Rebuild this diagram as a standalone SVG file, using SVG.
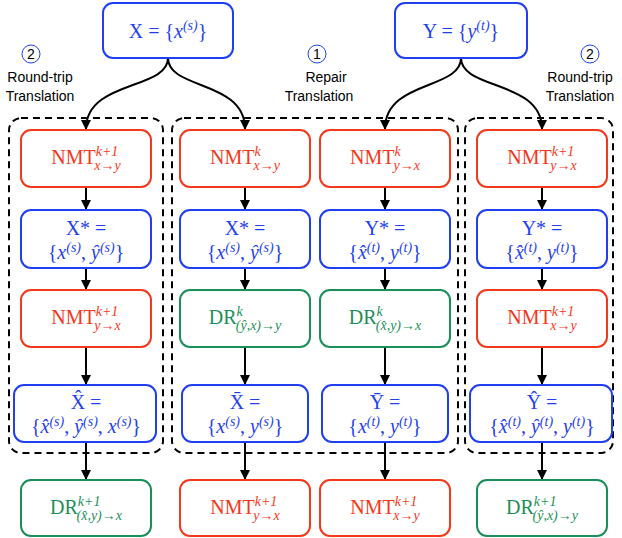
<svg xmlns="http://www.w3.org/2000/svg" width="622" height="538" viewBox="0 0 622 538">
<defs>
<marker id="ah" viewBox="0 0 10 10" refX="9" refY="5" markerWidth="5" markerHeight="5" orient="auto"><path d="M0,0 L10,5 L0,10 z" fill="#000"/></marker>
<style>
.b{fill:#fff;stroke-width:2}
.r{stroke:#f4381c}.rt{fill:#f4381c}
.u{stroke:#1f3ff0}.ut{fill:#1f3ff0}
.g{stroke:#1b8f5a}.gt{fill:#1b8f5a}
text{font-family:"Liberation Serif",serif;font-size:20px;text-anchor:middle}
.i{font-style:italic}
.s{font-size:14px;font-style:italic}
.lbl{font-family:"Liberation Sans",sans-serif;font-size:14px;fill:#000}
.d{fill:none;stroke:#000;stroke-width:2;stroke-dasharray:7,5}
.c{fill:none;stroke:#000;stroke-width:2;marker-end:url(#ah)}
</style>
</defs>
<g id="groups">
<rect class="d" x="9" y="118" width="154" height="335" rx="12"/>
<rect class="d" x="172" y="118" width="286" height="335" rx="12"/>
<rect class="d" x="465" y="118" width="148" height="335" rx="12"/>
</g>
<g id="labels">
<circle cx="31" cy="54" r="9" fill="none" stroke="#1f3ff0" stroke-width="1"/><text x="31" y="59" class="lbl">2</text>
<text x="40" y="82" class="lbl">Round-trip</text><text x="40" y="101" class="lbl">Translation</text>
<circle cx="317" cy="54" r="9" fill="none" stroke="#1f3ff0" stroke-width="1"/><text x="317" y="59" class="lbl">1</text>
<text x="326" y="82" class="lbl">Repair</text><text x="319" y="101" class="lbl">Translation</text>
<circle cx="590" cy="54" r="9" fill="none" stroke="#1f3ff0" stroke-width="1"/><text x="590" y="59" class="lbl">2</text>
<text x="580" y="82" class="lbl">Round-trip</text><text x="580" y="101" class="lbl">Translation</text>
</g>
<g id="connectors">
<path class="c" d="M168,58 C168,90 86,80 86,129"/>
<path class="c" d="M168,58 C168,90 245,80 245,129"/>
<path class="c" d="M461,58 C461,90 385,80 385,129"/>
<path class="c" d="M461,58 C461,90 542,80 542,129"/>
<path class="c" d="M86,187 V209"/><path class="c" d="M86,268 V289"/><path class="c" d="M86,347 V384"/><path class="c" d="M86,442 V479"/>
<path class="c" d="M245,187 V209"/><path class="c" d="M245,268 V289"/><path class="c" d="M245,347 V384"/><path class="c" d="M245,442 V479"/>
<path class="c" d="M385,187 V209"/><path class="c" d="M385,268 V289"/><path class="c" d="M385,347 V384"/><path class="c" d="M385,442 V479"/>
<path class="c" d="M542,187 V209"/><path class="c" d="M542,268 V289"/><path class="c" d="M542,347 V384"/><path class="c" d="M542,442 V479"/>
</g>
<g id="nX"><rect class="b u" x="103" y="3" width="130" height="55" rx="10"/><text x="168" y="38" class="ut">X = {<tspan class="i">x</tspan><tspan class="s" dy="-8">(s)</tspan><tspan dy="8">}</tspan></text></g>
<g id="nY"><rect class="b u" x="395" y="3" width="132" height="55" rx="10"/><text x="461" y="38" class="ut">Y = {<tspan class="i">y</tspan><tspan class="s" dy="-8">(t)</tspan><tspan dy="8">}</tspan></text></g>
<g id="c1r1"><rect class="b r" x="21" y="130" width="130" height="57" rx="10"/><text x="86" y="164" class="rt">NMT<tspan class="s" dy="-8">k+1</tspan><tspan class="s" dx="-24" dy="14">x→y</tspan></text></g>
<g id="c1r2"><rect class="b u" x="21" y="210" width="130" height="58" rx="10"/><text x="86" y="235" class="ut">X* =</text><text x="86" y="259" class="ut">{<tspan class="i">x</tspan><tspan class="s" dy="-7">(s)</tspan><tspan dy="7">, </tspan><tspan class="i">ŷ</tspan><tspan class="s" dy="-7">(s)</tspan><tspan dy="7">}</tspan></text></g>
<g id="c1r3"><rect class="b r" x="21" y="290" width="130" height="57" rx="10"/><text x="86" y="324" class="rt">NMT<tspan class="s" dy="-8">k+1</tspan><tspan class="s" dx="-24" dy="14">y→x</tspan></text></g>
<g id="c1r4"><rect class="b u" x="14" y="385" width="142" height="57" rx="10"/><text x="86" y="409" class="ut">X̂ =</text><text x="86" y="433" class="ut">{<tspan class="i">x̂</tspan><tspan class="s" dy="-7">(s)</tspan><tspan dy="7">, </tspan><tspan class="i">ŷ</tspan><tspan class="s" dy="-7">(s)</tspan><tspan dy="7">, </tspan><tspan class="i">x</tspan><tspan class="s" dy="-7">(s)</tspan><tspan dy="7">}</tspan></text></g>
<g id="c1r5"><rect class="b g" x="21" y="480" width="130" height="56" rx="10"/><text x="86" y="514" class="gt">DR<tspan class="s" dy="-8">k+1</tspan><tspan class="s" dx="-24" dy="14">(x̂,y)→x</tspan></text></g>
<g id="c2r1"><rect class="b r" x="180" y="130" width="130" height="57" rx="10"/><text x="245" y="164" class="rt">NMT<tspan class="s" dy="-8">k</tspan><tspan class="s" dx="-7" dy="14">x→y</tspan></text></g>
<g id="c2r2"><rect class="b u" x="180" y="210" width="130" height="58" rx="10"/><text x="245" y="235" class="ut">X* =</text><text x="245" y="259" class="ut">{<tspan class="i">x</tspan><tspan class="s" dy="-7">(s)</tspan><tspan dy="7">, </tspan><tspan class="i">ŷ</tspan><tspan class="s" dy="-7">(s)</tspan><tspan dy="7">}</tspan></text></g>
<g id="c2r3"><rect class="b g" x="180" y="290" width="130" height="57" rx="10"/><text x="245" y="324" class="gt">DR<tspan class="s" dy="-8">k</tspan><tspan class="s" dx="-7" dy="14">(ŷ,x)→y</tspan></text></g>
<g id="c2r4"><rect class="b u" x="182" y="385" width="126" height="57" rx="10"/><text x="245" y="409" class="ut">X̄ =</text><text x="245" y="433" class="ut">{<tspan class="i">x</tspan><tspan class="s" dy="-7">(s)</tspan><tspan dy="7">, </tspan><tspan class="i">y</tspan><tspan class="s" dy="-7">(s)</tspan><tspan dy="7">}</tspan></text></g>
<g id="c2r5"><rect class="b r" x="180" y="480" width="130" height="56" rx="10"/><text x="245" y="514" class="rt">NMT<tspan class="s" dy="-8">k+1</tspan><tspan class="s" dx="-24" dy="14">y→x</tspan></text></g>
<g id="c3r1"><rect class="b r" x="320" y="130" width="130" height="57" rx="10"/><text x="385" y="164" class="rt">NMT<tspan class="s" dy="-8">k</tspan><tspan class="s" dx="-7" dy="14">y→x</tspan></text></g>
<g id="c3r2"><rect class="b u" x="320" y="210" width="130" height="58" rx="10"/><text x="385" y="235" class="ut">Y* =</text><text x="385" y="259" class="ut">{<tspan class="i">x̂</tspan><tspan class="s" dy="-7">(t)</tspan><tspan dy="7">, </tspan><tspan class="i">y</tspan><tspan class="s" dy="-7">(t)</tspan><tspan dy="7">}</tspan></text></g>
<g id="c3r3"><rect class="b g" x="320" y="290" width="130" height="57" rx="10"/><text x="385" y="324" class="gt">DR<tspan class="s" dy="-8">k</tspan><tspan class="s" dx="-7" dy="14">(x̂,y)→x</tspan></text></g>
<g id="c3r4"><rect class="b u" x="322" y="385" width="126" height="57" rx="10"/><text x="385" y="409" class="ut">Ȳ =</text><text x="385" y="433" class="ut">{<tspan class="i">x</tspan><tspan class="s" dy="-7">(t)</tspan><tspan dy="7">, </tspan><tspan class="i">y</tspan><tspan class="s" dy="-7">(t)</tspan><tspan dy="7">}</tspan></text></g>
<g id="c3r5"><rect class="b r" x="320" y="480" width="130" height="56" rx="10"/><text x="385" y="514" class="rt">NMT<tspan class="s" dy="-8">k+1</tspan><tspan class="s" dx="-24" dy="14">x→y</tspan></text></g>
<g id="c4r1"><rect class="b r" x="477" y="130" width="130" height="57" rx="10"/><text x="542" y="164" class="rt">NMT<tspan class="s" dy="-8">k+1</tspan><tspan class="s" dx="-24" dy="14">y→x</tspan></text></g>
<g id="c4r2"><rect class="b u" x="477" y="210" width="130" height="58" rx="10"/><text x="542" y="235" class="ut">Y* =</text><text x="542" y="259" class="ut">{<tspan class="i">x̂</tspan><tspan class="s" dy="-7">(t)</tspan><tspan dy="7">, </tspan><tspan class="i">y</tspan><tspan class="s" dy="-7">(t)</tspan><tspan dy="7">}</tspan></text></g>
<g id="c4r3"><rect class="b r" x="477" y="290" width="130" height="57" rx="10"/><text x="542" y="324" class="rt">NMT<tspan class="s" dy="-8">k+1</tspan><tspan class="s" dx="-24" dy="14">x→y</tspan></text></g>
<g id="c4r4"><rect class="b u" x="470" y="385" width="142" height="57" rx="10"/><text x="542" y="409" class="ut">Ŷ =</text><text x="542" y="433" class="ut">{<tspan class="i">x̂</tspan><tspan class="s" dy="-7">(t)</tspan><tspan dy="7">, </tspan><tspan class="i">ŷ</tspan><tspan class="s" dy="-7">(t)</tspan><tspan dy="7">, </tspan><tspan class="i">y</tspan><tspan class="s" dy="-7">(t)</tspan><tspan dy="7">}</tspan></text></g>
<g id="c4r5"><rect class="b g" x="477" y="480" width="130" height="56" rx="10"/><text x="542" y="514" class="gt">DR<tspan class="s" dy="-8">k+1</tspan><tspan class="s" dx="-24" dy="14">(ŷ,x)→y</tspan></text></g>
</svg>
